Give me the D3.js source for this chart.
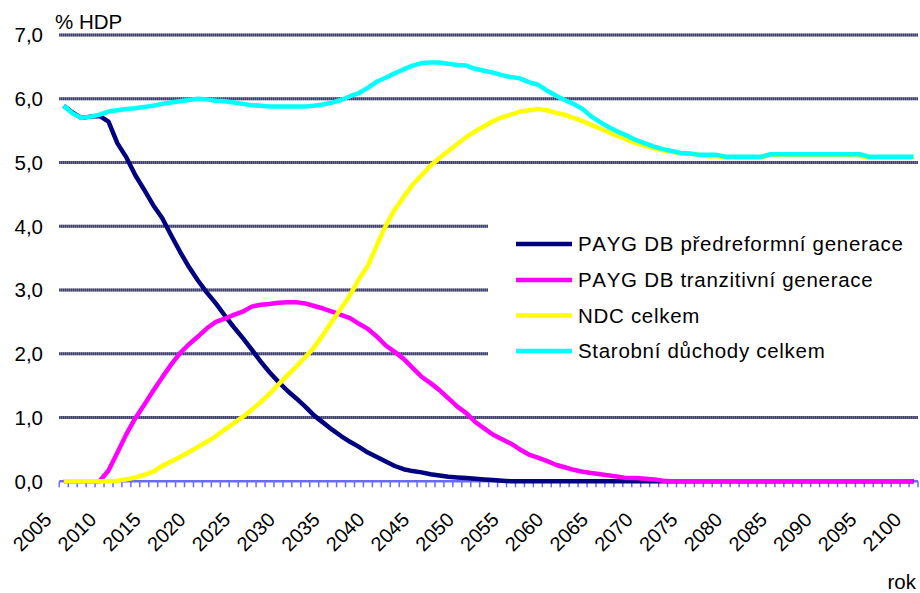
<!DOCTYPE html>
<html>
<head>
<meta charset="utf-8">
<script src="https://cdn.jsdelivr.net/npm/d3@7"></script>
<style>
  html, body { margin: 0; padding: 0; background: #fff; }
  svg { display: block; }
  text { font-family: "Liberation Sans", Arial, sans-serif; fill: #000; font-kerning: none; }
</style>
</head>
<body>
<svg id="chart" width="920" height="593"></svg>
<script>
// ---------------- DATA ----------------
const years = [2005,2006,2007,2008,2009,2010,2011,2012,2013,2014,
  2015,2016,2017,2018,2019,2020,2021,2022,2023,2024,
  2025,2026,2027,2028,2029,2030,2031,2032,2033,2034,
  2035,2036,2037,2038,2039,2040,2041,2042,2043,2044,
  2045,2046,2047,2048,2049,2050,2051,2052,2053,2054,
  2055,2056,2057,2058,2059,2060,2061,2062,2063,2064,
  2065,2066,2067,2068,2069,2070,2071,2072,2073,2074,
  2075,2076,2077,2078,2079,2080,2081,2082,2083,2084,
  2085,2086,2087,2088,2089,2090,2091,2092,2093,2094,
  2095,2096,2097,2098,2099,2100];

const xTickLabels = [2005,2010,2015,2020,2025,2030,2035,2040,2045,2050,
  2055,2060,2065,2070,2075,2080,2085,2090,2095,2100];

const yTickValues = [0,1,2,3,4,5,6,7];

const seriesNames = ["PAYG DB předreformní generace", "PAYG DB tranzitivní generace",
  "NDC celkem", "Starobní důchody celkem"];
const seriesColors = ["#000080", "#ff00ff", "#ffff00", "#00ffff"];

const paygPre = [5.89,5.78,5.70,5.72,5.73,5.64,5.30,5.08,4.80,4.57,
  4.33,4.13,3.86,3.60,3.36,3.15,2.96,2.79,2.60,2.42,
  2.25,2.07,1.88,1.71,1.56,1.42,1.30,1.17,1.03,0.92,
  0.81,0.71,0.62,0.54,0.45,0.38,0.31,0.24,0.19,0.16,
  0.14,0.11,0.09,0.07,0.06,0.05,0.04,0.03,0.02,0.01,
  0,0,0,0,0,0,0,0,0,0,
  0,0,0,0,0,0,0,0,0,0,
  0,0,0,0,0,0,0,0,0,0,
  0,0,0,0,0,0,0,0,0,0,
  0,0,0,0,0,0];

const paygTrans = [0,0,0,0,0,0.17,0.45,0.74,0.99,1.20,
  1.42,1.63,1.83,2.01,2.15,2.27,2.40,2.50,2.55,2.61,
  2.66,2.74,2.77,2.78,2.80,2.81,2.81,2.79,2.75,2.71,
  2.66,2.61,2.56,2.47,2.39,2.27,2.13,2.03,1.92,1.78,
  1.64,1.54,1.43,1.30,1.17,1.07,0.93,0.83,0.73,0.66,
  0.59,0.50,0.42,0.37,0.32,0.26,0.22,0.18,0.15,0.13,
  0.11,0.09,0.07,0.05,0.05,0.04,0.03,0.01,0,0,
  0,0,0,0,0,0,0,0,0,0,
  0,0,0,0,0,0,0,0,0,0,
  0,0,0,0,0,0];

const ndc = [0,0,0,0,0,0,0.01,0.03,0.06,0.10,
  0.15,0.24,0.31,0.38,0.46,0.54,0.62,0.71,0.81,0.91,
  1.01,1.12,1.24,1.37,1.52,1.66,1.80,1.95,2.10,2.30,
  2.51,2.71,2.92,3.17,3.38,3.70,4.01,4.26,4.46,4.65,
  4.80,4.95,5.07,5.18,5.29,5.40,5.49,5.57,5.65,5.71,
  5.75,5.80,5.82,5.84,5.82,5.78,5.75,5.70,5.65,5.59,
  5.53,5.47,5.41,5.36,5.30,5.26,5.22,5.19,5.17,5.14,
  5.14,5.12,5.10,5.10,5.08,5.08,5.08,5.08,5.08,5.12,
  5.12,5.12,5.12,5.12,5.12,5.12,5.12,5.12,5.12,5.10,
  5.08,5.08,5.08,5.08,5.08,5.08];

const total = [5.89,5.77,5.70,5.72,5.75,5.80,5.82,5.84,5.85,5.87,
  5.89,5.92,5.94,5.96,5.98,6.00,5.99,5.97,5.96,5.94,
  5.92,5.90,5.89,5.88,5.88,5.88,5.88,5.88,5.89,5.91,
  5.94,5.98,6.04,6.09,6.17,6.27,6.33,6.40,6.46,6.52,
  6.56,6.57,6.57,6.55,6.53,6.52,6.47,6.44,6.41,6.37,
  6.34,6.32,6.26,6.22,6.13,6.05,5.98,5.92,5.84,5.72,
  5.63,5.55,5.48,5.42,5.35,5.30,5.25,5.21,5.18,5.15,
  5.14,5.12,5.12,5.12,5.09,5.09,5.09,5.09,5.09,5.13,
  5.13,5.13,5.13,5.13,5.13,5.13,5.13,5.13,5.13,5.13,
  5.09,5.09,5.09,5.09,5.09,5.09];

const seriesValues = [paygPre, paygTrans, ndc, total];

// ---------------- CHART ----------------
const svg = d3.select("#chart");
const plotLeft = 59.3, plotRight = 918, plotTop = 35, plotBottom = 481.3;

const x = d3.scaleBand().domain(years).range([plotLeft, plotRight]).padding(0);
const y = d3.scaleLinear().domain([0, 7]).range([plotBottom, plotTop]);
const cx = d => x(d) + x.bandwidth() / 2;

const loc = d3.formatLocale({decimal: ",", thousands: " ", grouping: [3], currency: ["", ""]});
const fmt = loc.format(".1f");

// gridlines
const grid = svg.append("g");
yTickValues.filter(v => v > 0).forEach(v => {
  grid.append("line").attr("x1", plotLeft).attr("x2", plotRight)
    .attr("y1", y(v)).attr("y2", y(v))
    .attr("stroke", "#8c8ca4").attr("stroke-width", 3);
  grid.append("line").attr("x1", plotLeft).attr("x2", plotRight)
    .attr("y1", y(v)).attr("y2", y(v))
    .attr("stroke", "#22225a").attr("stroke-width", 3)
    .attr("stroke-dasharray", "1 1");
});

// legend background (hides gridlines behind legend)
svg.append("rect").attr("x", 488).attr("y", 200).attr("width", 432).attr("height", 178)
  .attr("fill", "#fff");

// y axis labels
svg.append("g").selectAll("text").data(yTickValues).join("text")
  .attr("x", 43).attr("y", d => y(d)).attr("dy", "0.36em")
  .attr("text-anchor", "end").attr("font-size", 20.5)
  .text(d => fmt(d));

svg.append("text").attr("x", 55).attr("y", 29).attr("font-size", 20.5).text("% HDP");

// x axis line + ticks
const axisG = svg.append("g");
axisG.append("line").attr("x1", plotLeft).attr("x2", plotRight)
  .attr("y1", plotBottom).attr("y2", plotBottom)
  .attr("stroke", "#6a6aff").attr("stroke-width", 2.5);
const tickPos = years.map(d => x(d)).concat([x(years[years.length - 1]) + x.bandwidth()]);
axisG.selectAll("line.tk").data(tickPos).join("line").attr("class", "tk")
  .attr("x1", d => d).attr("x2", d => d)
  .attr("y1", plotBottom).attr("y2", plotBottom + 6)
  .attr("stroke", "#6a6aff").attr("stroke-width", 1.5);

// x labels
svg.append("g").selectAll("text").data(xTickLabels).join("text")
  .attr("transform", d => `translate(${cx(d) - 11},521) rotate(-45)`)
  .attr("text-anchor", "end").attr("font-size", 20)
  .text(d => d);

svg.append("text").attr("x", 916).attr("y", 589).attr("text-anchor", "end")
  .attr("font-size", 20.5).text("rok");

// series lines
const line = d3.line().x((d, i) => cx(years[i])).y(d => y(d));
seriesValues.forEach((vals, i) => {
  svg.append("path").datum(vals)
    .attr("d", line)
    .attr("fill", "none")
    .attr("stroke", seriesColors[i])
    .attr("stroke-width", 4.5)
    .attr("stroke-linejoin", "round");
});

// legend
const legY = [244, 280, 315.5, 351];
const leg = svg.append("g");
seriesNames.forEach((name, i) => {
  leg.append("line").attr("x1", 516).attr("x2", 572)
    .attr("y1", legY[i]).attr("y2", legY[i])
    .attr("stroke", seriesColors[i]).attr("stroke-width", 4.5);
  leg.append("text").attr("x", 578).attr("y", legY[i]).attr("dy", "0.36em")
    .attr("font-size", 20.5).attr("letter-spacing", 0.7).text(name);
});
</script>
</body>
</html>
